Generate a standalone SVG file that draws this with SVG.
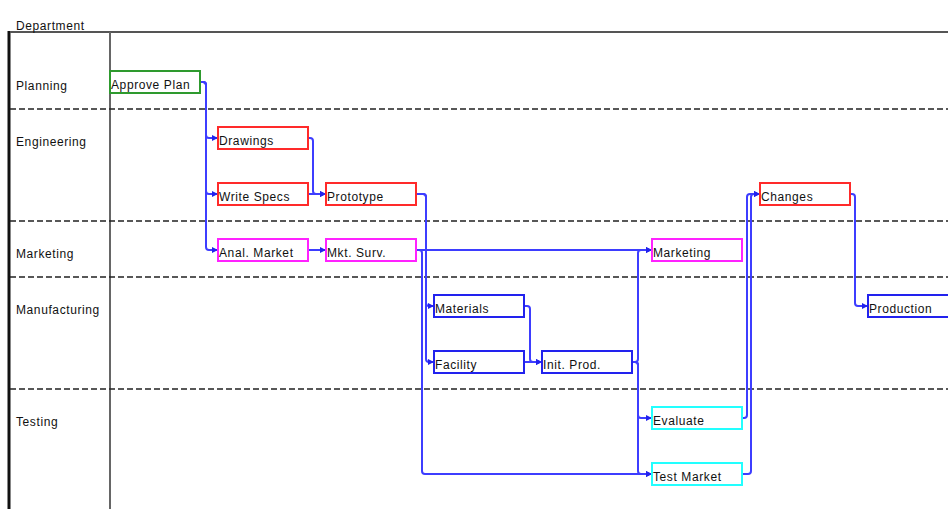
<svg xmlns="http://www.w3.org/2000/svg" width="948" height="509" viewBox="0 0 948 509">
<style>
.lbl{font-family:"Liberation Sans",Arial,sans-serif;font-size:12px;letter-spacing:0.6px;fill:#111}
.node rect{fill:#fff;stroke-width:2}
.g rect{stroke:#2e9a2e}
.r rect{stroke:#ff2a2a}
.m rect{stroke:#ff22ff}
.b rect{stroke:#2222ee}
.c rect{stroke:#22ffff}
.lane{stroke:#222;stroke-width:1.5;stroke-dasharray:6 3}
#connectors path{fill:none;stroke:#3d3dff;stroke-width:2}
</style>
<defs>
<marker id="arr" markerWidth="6" markerHeight="6" refX="5" refY="3" orient="auto" markerUnits="userSpaceOnUse">
<path d="M0,0 L6,3 L0,6 Z" fill="#2222ee"/>
</marker>
</defs>
<rect width="948" height="509" fill="#fff"/>
<g id="frame">
<line x1="9" y1="31" x2="9" y2="509" stroke="#111" stroke-width="3"/>
<line x1="10" y1="32" x2="948" y2="32" stroke="#555" stroke-width="2"/>
<line x1="110" y1="32" x2="110" y2="509" stroke="#666" stroke-width="2"/>
<line class="lane" x1="10" y1="109" x2="948" y2="109"/>
<line class="lane" x1="10" y1="221" x2="948" y2="221"/>
<line class="lane" x1="10" y1="277" x2="948" y2="277"/>
<line class="lane" x1="10" y1="389" x2="948" y2="389"/>
<text class="lbl" x="16" y="30">Department</text>
<text class="lbl" x="16" y="90">Planning</text>
<text class="lbl" x="16" y="146">Engineering</text>
<text class="lbl" x="16" y="258">Marketing</text>
<text class="lbl" x="16" y="314">Manufacturing</text>
<text class="lbl" x="16" y="426">Testing</text>
</g>
<g id="connectors">
<path d="M200,82 H203 Q206,82 206,85 V135 Q206,138 209,138 H217" marker-end="url(#arr)"/>
<path d="M200,82 H203 Q206,82 206,85 V191 Q206,194 209,194 H217" marker-end="url(#arr)"/>
<path d="M200,82 H203 Q206,82 206,85 V247 Q206,250 209,250 H217" marker-end="url(#arr)"/>
<path d="M308,138 H310 Q313,138 313,141 V191 Q313,194 316,194 H325" marker-end="url(#arr)"/>
<path d="M308,194 H325" marker-end="url(#arr)"/>
<path d="M308,250 H325" marker-end="url(#arr)"/>
<path d="M416,194 H423 Q426,194 426,197 V303 Q426,306 429,306 H433" marker-end="url(#arr)"/>
<path d="M416,194 H423 Q426,194 426,197 V359 Q426,362 429,362 H433" marker-end="url(#arr)"/>
<path d="M416,250 H651" marker-end="url(#arr)"/>
<path d="M416,250 H419 Q422,250 422,253 V471 Q422,474 425,474 H651" marker-end="url(#arr)"/>
<path d="M524,306 H527 Q530,306 530,309 V359 Q530,362 533,362 H541" marker-end="url(#arr)"/>
<path d="M524,362 H541" marker-end="url(#arr)"/>
<path d="M632,362 H635 Q638,362 638,359 V253 Q638,250 641,250 H651" marker-end="url(#arr)"/>
<path d="M632,362 H635 Q638,362 638,365 V415 Q638,418 641,418 H651" marker-end="url(#arr)"/>
<path d="M632,362 H635 Q638,362 638,365 V471 Q638,474 641,474 H651" marker-end="url(#arr)"/>
<path d="M742,418 H744 Q747,418 747,415 V197 Q747,194 750,194 H759" marker-end="url(#arr)"/>
<path d="M742,474 H748 Q751,474 751,471 V197 Q751,194 754,194 H759" marker-end="url(#arr)"/>
<path d="M850,194 H852 Q855,194 855,197 V303 Q855,306 858,306 H867" marker-end="url(#arr)"/>
</g>
<g id="n-approve" class="node g"><rect x="110" y="71" width="90" height="22"/><text class="lbl" x="111" y="89">Approve Plan</text></g>
<g id="n-drawings" class="node r"><rect x="218" y="127" width="90" height="22"/><text class="lbl" x="219" y="145">Drawings</text></g>
<g id="n-specs" class="node r"><rect x="218" y="183" width="90" height="22"/><text class="lbl" x="219" y="201">Write Specs</text></g>
<g id="n-proto" class="node r"><rect x="326" y="183" width="90" height="22"/><text class="lbl" x="327" y="201">Prototype</text></g>
<g id="n-anal" class="node m"><rect x="218" y="239" width="90" height="22"/><text class="lbl" x="219" y="257">Anal. Market</text></g>
<g id="n-surv" class="node m"><rect x="326" y="239" width="90" height="22"/><text class="lbl" x="327" y="257">Mkt. Surv.</text></g>
<g id="n-marketing" class="node m"><rect x="652" y="239" width="90" height="22"/><text class="lbl" x="653" y="257">Marketing</text></g>
<g id="n-changes" class="node r"><rect x="760" y="183" width="90" height="22"/><text class="lbl" x="761" y="201">Changes</text></g>
<g id="n-materials" class="node b"><rect x="434" y="295" width="90" height="22"/><text class="lbl" x="435" y="313">Materials</text></g>
<g id="n-facility" class="node b"><rect x="434" y="351" width="90" height="22"/><text class="lbl" x="435" y="369">Facility</text></g>
<g id="n-init" class="node b"><rect x="542" y="351" width="90" height="22"/><text class="lbl" x="543" y="369">Init. Prod.</text></g>
<g id="n-evaluate" class="node c"><rect x="652" y="407" width="90" height="22"/><text class="lbl" x="653" y="425">Evaluate</text></g>
<g id="n-test" class="node c"><rect x="652" y="463" width="90" height="22"/><text class="lbl" x="653" y="481">Test Market</text></g>
<g id="n-production" class="node b"><rect x="868" y="295" width="90" height="22"/><text class="lbl" x="869" y="313">Production</text></g>
</svg>
